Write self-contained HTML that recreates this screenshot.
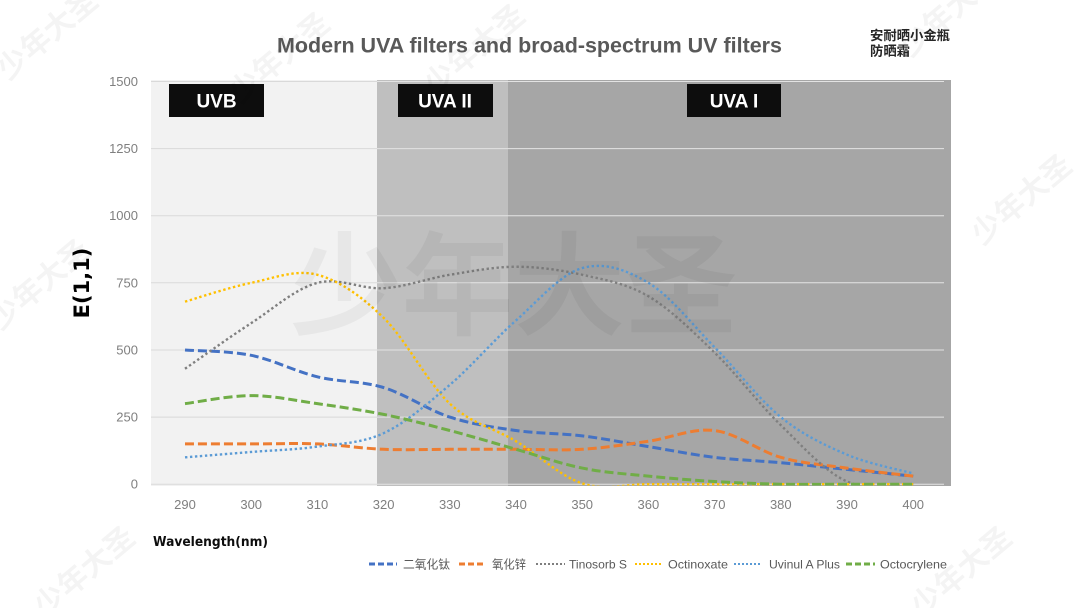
<!DOCTYPE html>
<html><head><meta charset="utf-8">
<style>
html,body{margin:0;padding:0;background:#fff;}
svg{display:block;}
text{font-family:"Liberation Sans","Noto Sans CJK SC",sans-serif;}
</style></head>
<body>
<svg id="c" width="1080" height="608" viewBox="0 0 1080 608" xmlns="http://www.w3.org/2000/svg">
<defs><clipPath id="pc"><rect x="140" y="60" width="820" height="425.5"/></clipPath></defs>
<rect width="1080" height="608" fill="#fff"/>
<!-- bands -->
<rect x="151" y="80" width="226" height="406" fill="#f2f2f2"/>
<rect x="377" y="80" width="131" height="406" fill="#bfbfbf"/>
<rect x="508" y="80" width="443" height="406" fill="#a6a6a6"/>
<g id="grid"></g>
<!-- band labels -->
<rect x="169" y="84" width="95" height="33" fill="#0d0d0d"/>
<text x="216.5" y="107.3" font-size="19" font-weight="bold" fill="#fff" text-anchor="middle">UVB</text>
<rect x="398" y="84" width="95" height="33" fill="#0d0d0d"/>
<text x="445" y="107.3" font-size="19" font-weight="bold" fill="#fff" text-anchor="middle">UVA II</text>
<rect x="687" y="84" width="94" height="33" fill="#0d0d0d"/>
<text x="734" y="107.3" font-size="19" font-weight="bold" fill="#fff" text-anchor="middle">UVA I</text>
<g id="series" clip-path="url(#pc)"></g>
<!-- title -->
<text x="277" y="52.5" font-size="21.4" font-weight="bold" fill="#595959" textLength="505" lengthAdjust="spacingAndGlyphs">Modern UVA filters and broad-spectrum UV filters</text>
<text x="870" y="40" font-size="13.3" font-weight="bold" fill="#262626" textLength="80" lengthAdjust="spacingAndGlyphs" style='font-family:"Noto Sans CJK SC",sans-serif'>安耐晒小金瓶</text>
<text x="870" y="55.5" font-size="13.3" font-weight="bold" fill="#262626" textLength="40" lengthAdjust="spacingAndGlyphs" style='font-family:"Noto Sans CJK SC",sans-serif'>防晒霜</text>
<g id="ylab" font-size="13" fill="#7f7f7f" text-anchor="end"></g>
<g id="xlab" font-size="13" fill="#7f7f7f" text-anchor="middle"></g>
<text transform="translate(82,283) rotate(-90)" text-anchor="middle" dominant-baseline="central" font-size="21" font-weight="bold" fill="#000" style='font-family:"DejaVu Sans",sans-serif'>E(1,1)</text>
<text x="153" y="546" font-size="13" font-weight="bold" fill="#0d0d0d" textLength="115" lengthAdjust="spacingAndGlyphs" style='font-family:"DejaVu Sans",sans-serif'>Wavelength(nm)</text>
<!-- legend -->
<g font-size="12" fill="#595959">
<line x1="369" y1="564" x2="397" y2="564" stroke="#4472c4" stroke-width="3" stroke-dasharray="6 3"/>
<text x="403" y="568.5" textLength="47" lengthAdjust="spacingAndGlyphs">二氧化钛</text>
<line x1="459" y1="564" x2="486" y2="564" stroke="#ed7d31" stroke-width="3" stroke-dasharray="6 3"/>
<text x="492" y="568.5" textLength="34" lengthAdjust="spacingAndGlyphs">氧化锌</text>
<line x1="536" y1="564" x2="565" y2="564" stroke="#7f7f7f" stroke-width="2" stroke-dasharray="2 2"/>
<text x="569" y="568.5" textLength="58" lengthAdjust="spacingAndGlyphs">Tinosorb S</text>
<line x1="635" y1="564" x2="663" y2="564" stroke="#ffc000" stroke-width="2" stroke-dasharray="2 2"/>
<text x="668" y="568.5" textLength="60" lengthAdjust="spacingAndGlyphs">Octinoxate</text>
<line x1="734" y1="564" x2="762" y2="564" stroke="#5b9bd5" stroke-width="2" stroke-dasharray="2 2"/>
<text x="769" y="568.5" textLength="71" lengthAdjust="spacingAndGlyphs">Uvinul A Plus</text>
<line x1="846" y1="564" x2="875" y2="564" stroke="#70ad47" stroke-width="3" stroke-dasharray="6 3"/>
<text x="880" y="568.5" textLength="67" lengthAdjust="spacingAndGlyphs">Octocrylene</text>
</g>
<!-- big watermark -->
<text x="290" y="326" font-size="112" font-weight="bold" fill="#000" fill-opacity="0.045" textLength="447" lengthAdjust="spacingAndGlyphs" style='font-family:"Noto Sans CJK SC",sans-serif'>少年大圣</text>
<g id="wm" font-size="30" font-weight="bold" fill="#000" fill-opacity="0.045" text-anchor="middle" style='font-family:"Noto Sans CJK SC",sans-serif'></g>
</svg>
<script>
(function(){
var NS="http://www.w3.org/2000/svg";
function X(nm){return 185+(nm-290)*6.62;}
function Y(v){return 484.2-v*0.26847;}
function el(tag,attrs,parent,txt){var e=document.createElementNS(NS,tag);for(var k in attrs)e.setAttribute(k,attrs[k]);if(txt!==undefined)e.textContent=txt;parent.appendChild(e);return e;}
var grid=document.getElementById('grid');
for(var v=0;v<=1500;v+=250){
  var y=Y(v).toFixed(1);
  el('line',{x1:151,y1:y,x2:377,y2:y,stroke:'#d9d9d9','stroke-width':1},grid);
  el('line',{x1:377,y1:y,x2:944,y2:y,stroke:'#e3e3e3','stroke-width':1},grid);
  el('text',{x:138,y:(Y(v)+4.5).toFixed(1)},document.getElementById('ylab'),String(v));
}
for(var nm=290;nm<=400;nm+=10){
  el('text',{x:X(nm).toFixed(1),y:509},document.getElementById('xlab'),String(nm));
}
function path(vals){
  var p=vals.map(function(v,i){return [X(290+10*i),Y(v)];});
  var f=function(a){return a[0].toFixed(2)+','+a[1].toFixed(2);};
  var d='M'+f(p[0]);
  for(var i=0;i<p.length-1;i++){
    var p0=p[Math.max(i-1,0)],p1=p[i],p2=p[i+1],p3=p[Math.min(i+2,p.length-1)];
    var c1=[p1[0]+(p2[0]-p0[0])/6,p1[1]+(p2[1]-p0[1])/6];
    var c2=[p2[0]-(p3[0]-p1[0])/6,p2[1]-(p3[1]-p1[1])/6];
    d+=' C'+f(c1)+' '+f(c2)+' '+f(p2);
  }
  return d;
}
var S=[
 {c:'#4472c4',w:3,da:'9 4',v:[500,480,400,360,250,200,180,140,100,80,55,30]},
 {c:'#ed7d31',w:3,da:'9 4',v:[150,150,150,130,130,130,130,160,200,100,60,30]},
 {c:'#7f7f7f',w:2.4,da:'2.4 2.6',v:[430,600,750,730,780,810,780,700,490,220,10,0]},
 {c:'#ffc000',w:2.4,da:'2.4 2.6',v:[680,750,780,620,300,160,3,0,0,0,0,0]},
 {c:'#5b9bd5',w:2.4,da:'2.4 2.6',v:[100,120,140,190,370,610,805,750,510,250,110,40]},
 {c:'#70ad47',w:3,da:'9 4',v:[300,330,300,260,200,130,60,30,10,0,0,0]}
];
var sg=document.getElementById('series');
S.forEach(function(s){el('path',{d:path(s.v),fill:'none',stroke:s.c,'stroke-width':s.w,'stroke-dasharray':s.da},sg);});
var wm=document.getElementById('wm');
[[48,35],[280,58],[475,50],[950,12],[1022,200],[40,285],[85,572],[962,572]].forEach(function(p){
  el('text',{transform:'translate('+p[0]+','+p[1]+') rotate(-40)','dominant-baseline':'central'},wm,'少年大圣');
});
})();
</script>
</body></html>
